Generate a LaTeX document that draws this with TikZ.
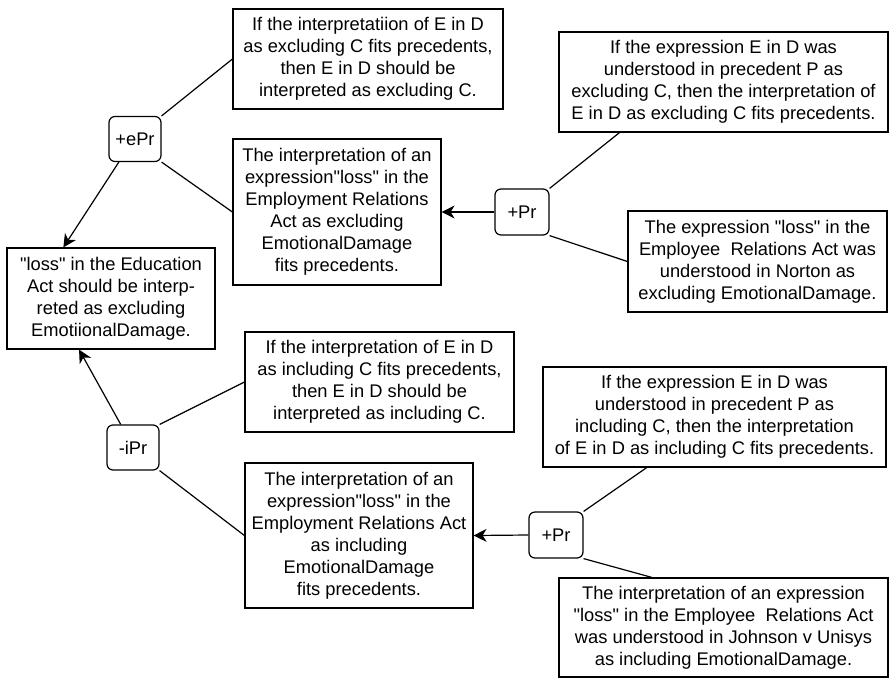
\documentclass[tikz,border=0pt]{standalone}
\usepackage{fontspec}
\setmainfont{Liberation Sans}
\usetikzlibrary{arrows.meta,calc}

\begin{document}
\begin{tikzpicture}[x=1pt,y=-1pt,
    claim/.style={draw,line width=1.2pt,align=center,inner sep=0pt,font=\fontsize{18.3}{22}\selectfont},
    rulebox/.style={draw,line width=1.2pt,rounded corners=6pt,inner sep=0pt,minimum width=52pt,minimum height=45pt,font=\fontsize{18.3}{22}\selectfont},
    link/.style={line width=1.2pt},
    support/.style={line width=1.2pt,-{Stealth[length=13pt,width=13pt,inset=4pt]}}]
			%%%%% START %%%%%
			
			\useasboundingbox (0,0) rectangle (889,678);
			
			% upper argument: excluding
			\node[claim,minimum width=270pt,minimum height=100pt] (ifexcl) at (368,59) {If the interpretatiion of E in D\\as excluding C fits precedents,\\then E in D should be\\interpreted as excluding C.};
			\node[rulebox] (epr) at (135,139) {+ePr};
			\node[claim,minimum width=208pt,minimum height=146pt] (fitexcl) at (337,212) {The interpretation of an\\expression\textquotedbl loss\textquotedbl{} in the\\Employment Relations\\Act as excluding\\EmotionalDamage\\fits precedents.};
			\node[claim,minimum width=208pt,minimum height=101pt] (goal) at (111,298.5) {\textquotedbl loss\textquotedbl{} in the Education\\Act should be interp-\\reted as excluding\\EmotiionalDamage.};
			
			\node[claim,minimum width=329pt,minimum height=100pt] (precexcl) at (723.5,82) {If the expression E in D was\\understood in precedent P as\\excluding C, then the interpretation of\\E in D as excluding C fits precedents.};
			\node[rulebox,minimum width=54pt,minimum height=46pt] (prtop) at (522,212) {+Pr};
			\node[claim,minimum width=259pt,minimum height=101pt] (norton) at (757.5,261.5) {The expression \textquotedbl loss\textquotedbl{} in the\\Employee\ \ Relations Act was\\understood in Norton as\\excluding EmotionalDamage.};
			
			% lower argument: including
			\node[claim,minimum width=269pt,minimum height=100pt] (ifincl) at (379.5,382) {If the interpretation of E in D\\as including C fits precedents,\\then E in D should be\\interpreted as including C.};
			\node[rulebox] (ipr) at (133,447.5) {-iPr};
			\node[claim,minimum width=228pt,minimum height=145pt] (fitincl) at (359,535.5) {The interpretation of an\\expression\textquotedbl loss\textquotedbl{} in the\\Employment Relations Act\\as including\\EmotionalDamage\\fits precedents.};
			
			\node[claim,minimum width=343pt,minimum height=100pt] (precincl) at (714.5,417) {If the expression E in D was\\understood in precedent P as\\including C, then the interpretation\\of E in D as including C fits precedents.};
			\node[rulebox,minimum width=54pt,minimum height=46pt] (prbot) at (556,535) {+Pr};
			\node[claim,minimum width=329pt,minimum height=99pt] (johnson) at (723.5,627.5) {The interpretation of an expression\\\textquotedbl loss\textquotedbl{} in the Employee\ \ Relations Act\\was understood in Johnson v Unisys\\as including EmotionalDamage.};
			
			% connectors
			\draw[support] (epr.235) -- (goal.133);
			\draw[link] (epr.north east) -- (ifexcl.west);
			\draw[link] (epr.south east) -- (fitexcl.west);
			\draw[support] (prtop.west) -- (fitexcl.east);
			\draw[link] (prtop.north east) -- ($(precexcl.south west)!0.185!(precexcl.south east)$);
			\draw[link] (prtop.south east) -- (norton.west);
			
			\draw[support] (ipr.118) -- (goal.238);
			\draw[link] (ipr.north east) -- (ifincl.west);
			\draw[link] (ipr.south east) -- (fitincl.west);
			\draw[support] (prbot.west) -- (fitincl.east);
			\draw[link] (prbot.north east) -- ($(precincl.south west)!0.303!(precincl.south east)$);
			\draw[link] (prbot.south east) -- ($(johnson.north west)!0.283!(johnson.north east)$);
			
			%%%%% END %%%%%
\end{tikzpicture}
\end{document}
